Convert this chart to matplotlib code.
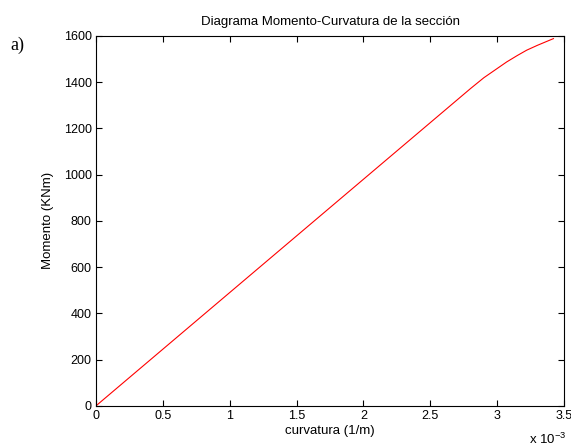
import matplotlib
matplotlib.use("Agg")
import matplotlib.pyplot as plt

plt.rcParams['font.family'] = ['Liberation Sans', 'DejaVu Sans']
plt.rcParams['mathtext.fontset'] = 'custom'
plt.rcParams['mathtext.rm'] = 'Liberation Sans'
plt.rcParams['mathtext.it'] = 'Liberation Sans'
plt.rcParams['mathtext.default'] = 'regular'

# curvature in units of 1e-3 (1/m), moment in KNm
curvatura = [0, 0.5, 1.0, 1.5, 2.0, 2.5, 2.8, 2.9, 2.96, 3.0, 3.07, 3.15, 3.22, 3.3, 3.42]
momento = [0, 245, 490, 735, 980, 1225, 1372, 1419, 1443, 1459, 1487, 1515, 1538, 1559, 1588]
xticks = [0, 0.5, 1, 1.5, 2, 2.5, 3, 3.5]
xticklabels = ['0', '0.5', '1', '1.5', '2', '2.5', '3', '3.5']
yticks = [0, 200, 400, 600, 800, 1000, 1200, 1400, 1600]

fig = plt.figure(figsize=(5.71, 4.48), dpi=100)
ax = fig.add_axes([0.168, 0.094, 0.820, 0.826])
ax.plot(curvatura, momento, color='red', linewidth=0.8)
ax.set_xlim(0, 3.5)
ax.set_ylim(0, 1600)
ax.set_xticks(xticks)
ax.set_xticklabels(xticklabels)
ax.set_yticks(yticks)
ax.tick_params(direction='in', top=True, right=True, labelsize=9, length=4, width=0.8, pad=3)
for s in ax.spines.values():
    s.set_linewidth(0.8)
ax.set_xlabel('curvatura (1/m)', fontsize=9.5, labelpad=2)
ax.set_ylabel('Momento (KNm)', fontsize=9.5, labelpad=7)
ax.set_title('Diagrama Momento-Curvatura de la sección', fontsize=9.5, pad=8)
fig.text(566 / 571, 1 - 439 / 448, r'x 10$^{-3}$', fontsize=9.5, ha='right', va='center')
fig.text(10 / 571, 1 - 45 / 448, 'a)', fontsize=13, family='Liberation Serif', ha='left', va='center')
fig.savefig('out.png', dpi=100)
